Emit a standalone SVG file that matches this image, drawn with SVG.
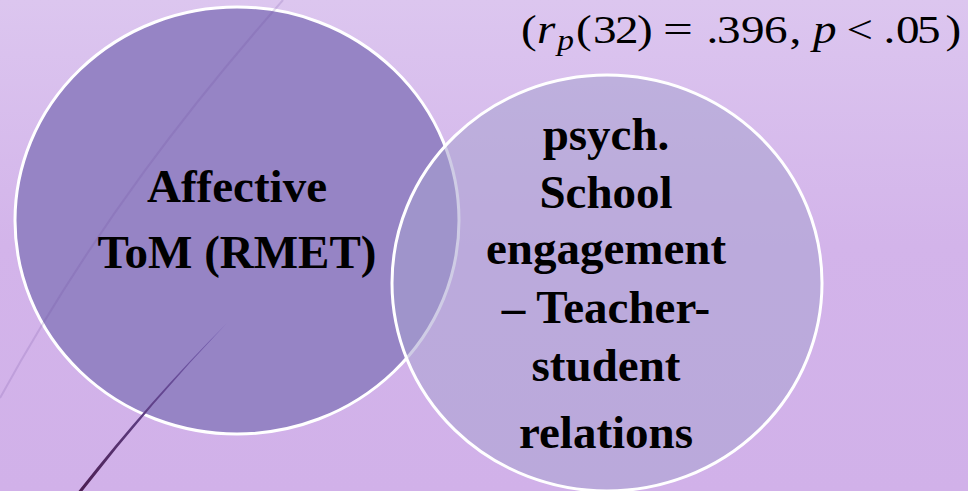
<svg xmlns="http://www.w3.org/2000/svg" width="968" height="491" viewBox="0 0 968 491">
  <defs>
    <linearGradient id="bg" x1="0" y1="0" x2="0" y2="1">
      <stop offset="0" stop-color="#dcc6ef"/>
      <stop offset="0.5" stop-color="#d3b4ea"/>
      <stop offset="1" stop-color="#d1b1e9"/>
    </linearGradient>
    <linearGradient id="swoosh" gradientUnits="userSpaceOnUse" x1="227" y1="323" x2="80" y2="491">
      <stop offset="0" stop-color="#7a66b6"/>
      <stop offset="0.45" stop-color="#62448e"/>
      <stop offset="1" stop-color="#4c1f52"/>
    </linearGradient>
    <style>
      .ring { stroke: #ffffff; stroke-width: 3; }
      .label { font-family: "Liberation Serif", "Times New Roman", serif; font-weight: bold; font-size: 47px; fill: #000; text-anchor: middle; }
      .math { font-family: "Liberation Serif", "Times New Roman", serif; font-size: 41px; fill: #000; }
      .it { font-style: italic; }
    </style>
  </defs>

  <!-- backdrop -->
  <rect width="968" height="491" fill="url(#bg)"/>

  <!-- left set -->
  <g id="node-affective-tom">
    <ellipse class="ring" cx="237" cy="220.5" rx="222" ry="213.5" fill="#9684c5"/>
    <text class="label" x="237" y="202">Affective</text>
    <text class="label" x="237" y="268">ToM (RMET)</text>
  </g>

  <!-- right set, translucent so the overlap shows through -->
  <g id="node-school-engagement">
    <ellipse cx="607" cy="283" rx="215" ry="208" fill="#a8a2d0" fill-opacity="0.55"/>
    <ellipse class="ring" cx="607" cy="283" rx="215" ry="208" fill="none"/>
    <text class="label" x="606" y="150">psych.</text>
    <text class="label" x="606" y="208">School</text>
    <text class="label" x="606" y="264">engagement</text>
    <text class="label" x="606" y="323">– Teacher-</text>
    <text class="label" x="606" y="381">student</text>
    <text class="label" x="606" y="448">relations</text>
  </g>

  <!-- decorative swooshes -->
  <g id="decor">
    <path d="M283,0 C195,100 95,225 0,398" fill="none" stroke="#6a4a9c" stroke-opacity="0.18" stroke-width="2"/>
    <path d="M227,323 Q150,400 78.5,491 L82.5,491 Q152,401.5 227,323 Z" fill="url(#swoosh)"/>
  </g>

  <!-- correlation between the two sets: math-style setting, stretched a little wider -->
  <g id="relation" transform="matrix(1.15 0 0 1 0 0)">
    <text class="math" y="43">
      <tspan x="453">(</tspan><tspan x="467" class="it">r</tspan><tspan x="484.5" dy="7" font-size="29" class="it">p</tspan><tspan x="500.9 515.7 534.8 553.9" dy="-7">(32)</tspan>
    </text>
    <text class="math" x="576.5" y="43" textLength="26" lengthAdjust="spacingAndGlyphs">=</text>
    <text class="math" y="43">
      <tspan x="614.3 623.5 644.3 664.3 686.5">.396,</tspan><tspan x="707" class="it">p</tspan>
    </text>
    <text class="math" x="736" y="43" textLength="23" lengthAdjust="spacingAndGlyphs">&lt;</text>
    <text class="math" y="43" x="768.3 779.1 797.4 822.2">.05)</text>
  </g>
</svg>
